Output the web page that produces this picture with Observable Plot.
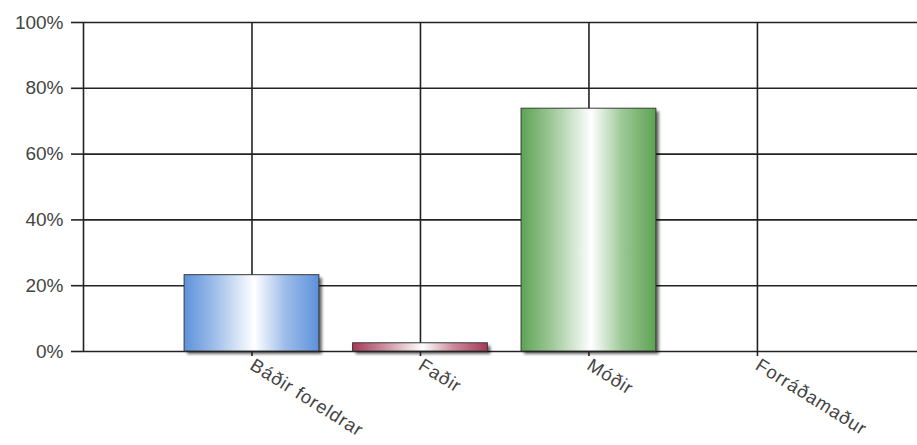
<!DOCTYPE html>
<html><head><meta charset="utf-8">
<script src="https://cdn.jsdelivr.net/npm/d3@7"></script>
<script src="https://cdn.jsdelivr.net/npm/@observablehq/plot@0.6"></script>
<style>
body{margin:0;background:#fff;}
#chart svg{font-family:"Liberation Sans",Arial,sans-serif;}
</style>
</head><body><div id="chart"></div>
<script>
const categories = ["Báðir foreldrar", "Faðir", "Móðir", "Forráðamaður"];
const values = [23.2, 2.5, 73.8, 0];
const yTicks = [0, 20, 40, 60, 80, 100];
const gradientIds = ["gBlue", "gRed", "gGreen", "gGray"];
const edgeColors = ["#5d91db", "#a63b58", "#5ca352", "#888888"];

const data = categories.map((name, i) => ({
  pos: i + 1, name, value: values[i], fill: `url(#${gradientIds[i]})`
}));
const shown = data.filter(d => d.value > 0);

const svg = Plot.plot({
  width: 917, height: 445,
  marginTop: 22, marginBottom: 94, marginLeft: 83, marginRight: 0,
  style: {fontFamily: "Liberation Sans, Arial, sans-serif", color: "#444", background: "#fff"},
  x: {type: "linear", domain: [0, 4.95]},
  y: {domain: [0, 100]},
  color: {type: "identity"},
  marks: [
    Plot.ruleY(yTicks, {stroke: "#222", strokeWidth: 1.6}),
    Plot.ruleX([0, 1, 2, 3, 4], {stroke: "#222", strokeWidth: 1.6}),
    Plot.rectY(shown, {x1: d => d.pos - 0.4, x2: d => d.pos + 0.4, y: "value", fill: "#000", fillOpacity: 0.6, dx: 3, dy: 3}),
    Plot.rectY(shown, {x1: d => d.pos - 0.4, x2: d => d.pos + 0.4, y: "value", fill: "fill", stroke: "#3a3a3a", strokeWidth: 1}),
    Plot.axisY({ticks: yTicks, tickFormat: d => d + "%", tickSize: 12, tickPadding: 8, fontSize: 19, stroke: "#222", strokeWidth: 1.6, label: null}),
    Plot.axisX({ticks: [1, 2, 3, 4], tickFormat: d => categories[d - 1], tickSize: 5, tickPadding: 7, tickRotate: 32, fontSize: 18.5, stroke: "#222", strokeWidth: 1.6, label: null})
  ]
});

const s = d3.select(svg);
const defs = s.insert("defs", ":first-child");
gradientIds.forEach((id, i) => {
  const g = defs.append("linearGradient").attr("id", id).attr("x1", "0").attr("x2", "1").attr("y1", "0").attr("y2", "0");
  const c = edgeColors[i];
  const mid = d3.interpolateRgb(c, "#ffffff");
  g.append("stop").attr("offset", "0%").attr("stop-color", c);
  g.append("stop").attr("offset", "25%").attr("stop-color", mid(0.45));
  g.append("stop").attr("offset", "52%").attr("stop-color", "#ffffff");
  g.append("stop").attr("offset", "75%").attr("stop-color", mid(0.4));
  g.append("stop").attr("offset", "100%").attr("stop-color", c);
});
const rectGroups = svg.querySelectorAll('g[aria-label="rect"]');
if (rectGroups.length) rectGroups[0].style.filter = "blur(1.8px)";
const xLabels = svg.querySelector('g[aria-label="x-axis tick label"]');
if (xLabels) xLabels.style.letterSpacing = "0.8px";
document.getElementById("chart").appendChild(svg);
</script>
</body></html>
